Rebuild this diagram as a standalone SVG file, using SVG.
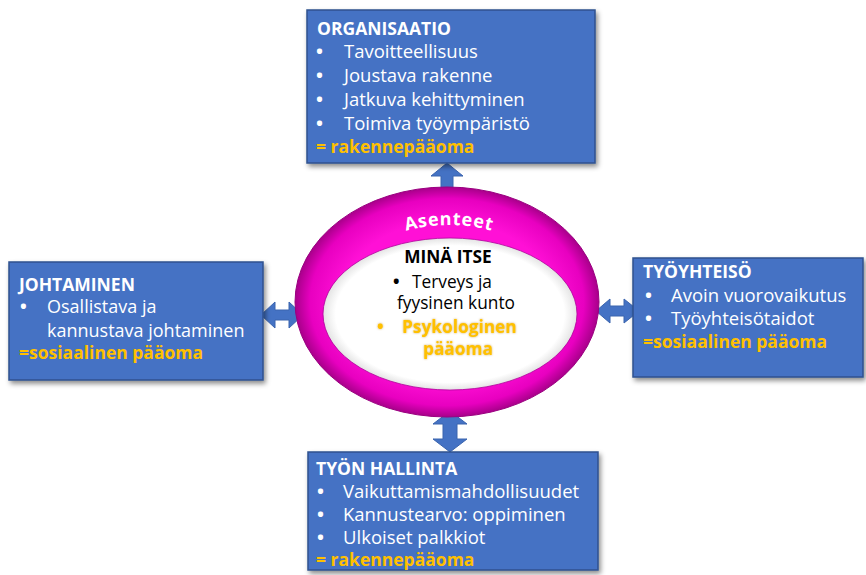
<svg xmlns="http://www.w3.org/2000/svg" width="866" height="575" viewBox="0 0 866 575">
<defs>
<style>
.box{fill:#4472C4;stroke:#2F528F;stroke-width:1.5;filter:url(#sh)}
.t{font-family:"Open Sans","Liberation Sans",sans-serif;font-size:18.5px;fill:#fff}
.s{font-size:18px}
.b{font-weight:bold}
.h{font-weight:bold;font-size:17.5px}
.y{font-family:"Open Sans","Liberation Sans",sans-serif;font-size:17.5px;font-weight:bold;fill:#FFC000}
.c{font-family:"Open Sans","Liberation Sans",sans-serif;font-size:17.3px;fill:#000}
.cy{font-family:"Open Sans","Liberation Sans",sans-serif;font-size:17.3px;font-weight:bold;fill:#FFC000}
.arr{fill:#4472C4;stroke:#3A64AE;stroke-width:1}
</style>
<filter id="sh" x="-10%" y="-10%" width="125%" height="130%">
<feDropShadow dx="2" dy="3" stdDeviation="2.5" flood-color="#000" flood-opacity="0.45"/>
</filter>
<filter id="glow" x="-20%" y="-40%" width="140%" height="180%">
<feDropShadow dx="0" dy="0" stdDeviation="1.2" flood-color="#B07800" flood-opacity="0.6"/>
</filter>
<radialGradient id="ring" cx="50%" cy="50%" r="50%">
<stop offset="0.7" stop-color="#FF10D6"/>
<stop offset="0.9" stop-color="#E800C0"/>
<stop offset="1" stop-color="#A8008A"/>
</radialGradient>
<radialGradient id="inner" cx="50%" cy="50%" r="50%">
<stop offset="0.9" stop-color="#FFFFFF"/>
<stop offset="1" stop-color="#E4E4E4"/>
</radialGradient>
<path id="arc" d="M 380 240 Q 449 210 518 240"/>
</defs>

<g id="connectors">
<path class="arr" d="M447 163 L463 176 L453 176 L453 191 L463 191 L447 205 L431 191 L441 191 L441 176 L431 176 Z"/>
<path class="arr" d="M450 411 L467 424 L457 424 L457 439 L467 439 L450 452 L433 439 L443 439 L443 424 L433 424 Z"/>
<path class="arr" d="M261 315 L275 302 L275 310 L289 310 L289 302 L303 315 L289 328 L289 320 L275 320 L275 328 Z"/>
<path class="arr" d="M596 311 L610 299 L610 306 L624 306 L624 299 L639 311 L624 323 L624 316 L610 316 L610 323 Z"/>
</g>

<g id="center">
<ellipse cx="447" cy="302" rx="152" ry="115" fill="url(#ring)" stroke="#9A0080" stroke-width="1"/>
<ellipse cx="450" cy="314" rx="127" ry="76" fill="url(#inner)" stroke="#B0009A" stroke-width="0.8"/>
<text font-family="Open Sans, Liberation Sans, sans-serif" font-size="18" font-weight="bold" letter-spacing="0.8" fill="#fff"><textPath href="#arc" startOffset="50%" text-anchor="middle">Asenteet</textPath></text>
<text class="c b" x="448" y="263" text-anchor="middle">MINÄ ITSE</text>
<text class="c b" x="393" y="288">•</text>
<text class="c" x="412" y="288">Terveys ja</text>
<text class="c" x="397" y="309">fyysinen kunto</text>
<g filter="url(#glow)">
<text class="cy" x="377" y="333">•</text>
<text class="cy" x="402" y="333">Psykologinen</text>
<text class="cy" x="423" y="355">pääoma</text>
</g>
</g>

<g id="organisaatio">
<rect class="box" x="307" y="10" width="288" height="153"/>
<text class="t h" x="317" y="35">ORGANISAATIO</text>
<text class="t b" x="316" y="58">•</text><text class="t" x="344" y="58">Tavoitteellisuus</text>
<text class="t b" x="316" y="82">•</text><text class="t" x="344" y="82">Joustava rakenne</text>
<text class="t b" x="316" y="106">•</text><text class="t" x="344" y="106">Jatkuva kehittyminen</text>
<text class="t b" x="316" y="130">•</text><text class="t" x="344" y="130">Toimiva työympäristö</text>
<text class="y" x="316" y="153">= rakennepääoma</text>
</g>

<g id="johtaminen">
<rect class="box" x="9" y="262" width="254" height="118"/>
<text class="t h" x="19" y="291">JOHTAMINEN</text>
<text class="t s b" x="20" y="313">•</text><text class="t s" x="47" y="313">Osallistava ja</text>
<text class="t s" x="47" y="337">kannustava johtaminen</text>
<text class="y" x="19" y="359">=sosiaalinen pääoma</text>
</g>

<g id="tyoyhteiso">
<rect class="box" x="633" y="258" width="230" height="119"/>
<text class="t h" x="643" y="278">TYÖYHTEISÖ</text>
<text class="t b" x="645" y="302">•</text><text class="t" x="671" y="302">Avoin vuorovaikutus</text>
<text class="t b" x="645" y="325">•</text><text class="t" x="671" y="325">Työyhteisötaidot</text>
<text class="y" x="643" y="348">=sosiaalinen pääoma</text>
</g>

<g id="tyon-hallinta">
<rect class="box" x="308" y="452" width="290" height="118"/>
<text class="t h" x="316" y="475">TYÖN HALLINTA</text>
<text class="t b" x="317" y="498">•</text><text class="t" x="343" y="498">Vaikuttamismahdollisuudet</text>
<text class="t b" x="317" y="521">•</text><text class="t" x="343" y="521">Kannustearvo: oppiminen</text>
<text class="t b" x="317" y="544">•</text><text class="t" x="343" y="544">Ulkoiset palkkiot</text>
<text class="y" x="316" y="566">= rakennepääoma</text>
</g>
</svg>
